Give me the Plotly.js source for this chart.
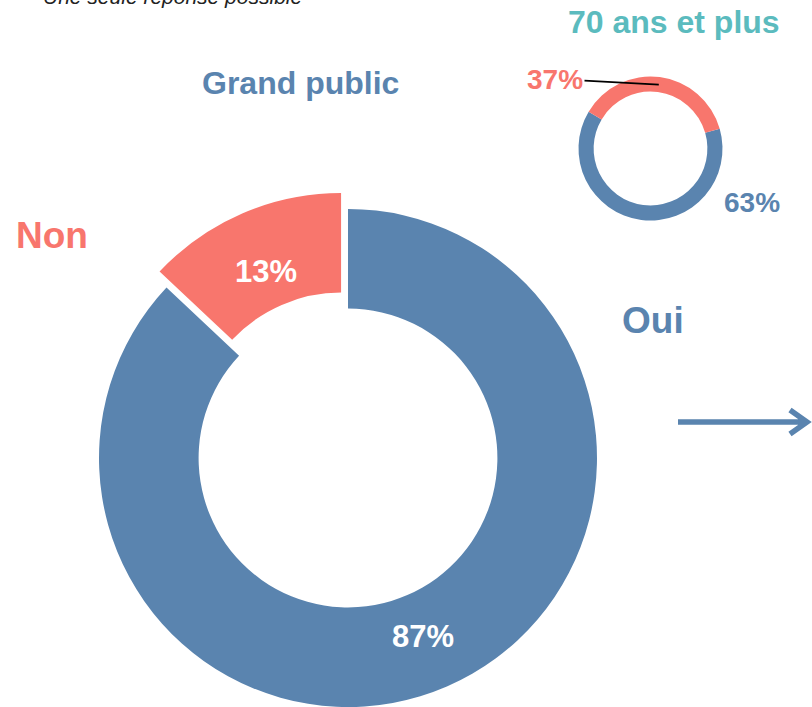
<!DOCTYPE html>
<html>
<head>
<meta charset="utf-8">
<script src="https://cdn.plot.ly/plotly-3.0.1.min.js"></script>
<style>
  html, body { margin: 0; padding: 0; overflow: hidden; background: #fff; }
  #chart { width: 812px; height: 740px; }
</style>
</head>
<body>
<div id="chart"></div>
<script>
// Réponses (en %)
const reponses = ["Oui", "Non"];
const grandPublic = [87, 13];
const plus70 = [63, 37];

const titreGrand = "Grand public";
const titre70 = "70 ans et plus";
const sousTitre = "Une seule réponse possible";

const BLEU = "#5A84AF";
const ROUGE = "#F8766D";
const TURQUOISE = "#5BBBBE";
const FONT = "Liberation Sans, Arial, sans-serif";

// la page est un peu plus haute que la fenêtre : le bas du grand anneau est coupé
const W = 812, H = 740;
const fx = x => x / W;
const fy = y => (H - y) / H;

// grand anneau
const bigPull = 0.07;
const bigC = [348, 458];
const bigR0 = 249;
const bigR = bigR0 * (1 + bigPull);

// petit anneau
const smallC = [650.5, 148.5];
const smallR = 72;
const smallHole = 0.79;
const smallRot = 74;

// angle (radians, sens horaire depuis midi) du milieu de la tranche i
function milieu(vals, i, rot) {
  const tot = vals.reduce((a, b) => a + b, 0);
  let avant = 0;
  for (let k = 0; k < i; k++) avant += vals[k];
  return (rot + 360 * (avant + vals[i] / 2) / tot) * Math.PI / 180;
}

function point(c, r, a) {
  return [c[0] + r * Math.sin(a), c[1] - r * Math.cos(a)];
}

// point du trait vers "37%" : milieu de la tranche "Non"
const ptNon = point(smallC, smallR * (1 + smallHole) / 2, milieu(plus70, 1, smallRot));

const traces = [
  {
    type: "pie",
    labels: reponses,
    values: grandPublic,
    sort: false,
    direction: "clockwise",
    rotation: 0,
    hole: 0.6,
    pull: [0, bigPull],
    marker: { colors: [BLEU, ROUGE], line: { width: 0 } },
    textinfo: "none",
    domain: {
      x: [fx(bigC[0] - bigR), fx(bigC[0] + bigR)],
      y: [fy(bigC[1] + bigR), fy(bigC[1] - bigR)]
    },
    hoverinfo: "none"
  },
  {
    type: "pie",
    labels: reponses,
    values: plus70,
    sort: false,
    direction: "clockwise",
    rotation: smallRot,
    hole: smallHole,
    marker: { colors: [BLEU, ROUGE], line: { width: 0 } },
    textinfo: "none",
    domain: {
      x: [fx(smallC[0] - smallR), fx(smallC[0] + smallR)],
      y: [fy(smallC[1] + smallR), fy(smallC[1] - smallR)]
    },
    hoverinfo: "none"
  }
];

function texte(t, x, y, size, color, extra) {
  return Object.assign({
    text: t, xref: "paper", yref: "paper", x: fx(x), y: fy(y),
    xanchor: "center", yanchor: "middle", showarrow: false,
    font: { family: FONT, size: size, color: color, weight: "bold" }
  }, extra || {});
}

// pourcentages dans le grand anneau
const pulls = [0, bigPull];
const etiquettesGrand = grandPublic.map((v, i) => {
  const a = milieu(grandPublic, i, 0);
  const p = point(bigC, 190 + bigR0 * pulls[i], a);
  return texte(v + "%", p[0], p[1] + 4, 31, "#fff");
});

const annotations = [
  texte(sousTitre, 41, -3, 21, "#222", {
    xanchor: "left",
    font: { family: FONT, size: 21, color: "#222", style: "italic" }
  }),
  texte(titreGrand, 300.5, 83, 32, BLEU),
  texte(titre70, 674, 22.5, 32, TURQUOISE),
  texte(reponses[1], 52, 236, 37, ROUGE),
  texte(reponses[0], 653, 320, 37, BLEU),
  texte(plus70[0] + "%", 752, 203, 28, BLEU),
  {
    text: plus70[1] + "%",
    xref: "paper", yref: "paper",
    x: fx(ptNon[0]), y: fy(ptNon[1]),
    ax: 555 - ptNon[0], ay: 79 - ptNon[1],
    showarrow: true, arrowhead: 0, arrowwidth: 1.6, arrowcolor: "#000",
    font: { family: FONT, size: 28, color: ROUGE, weight: "bold" }
  }
].concat(etiquettesGrand);

// flèche décorative à droite
const fleche = "M " + fx(678) + "," + fy(422) + " L " + fx(806) + "," + fy(422) +
  " M " + fx(790) + "," + fy(410) + " L " + fx(807) + "," + fy(422) + " L " + fx(790) + "," + fy(434);

const layout = {
  width: W,
  height: H,
  margin: { l: 0, r: 0, t: 0, b: 0 },
  paper_bgcolor: "#fff",
  showlegend: false,
  annotations: annotations,
  shapes: [
    {
      type: "path", xref: "paper", yref: "paper", path: fleche,
      line: { color: BLEU, width: 5.5 }
    }
  ]
};

Plotly.newPlot("chart", traces, layout, { displayModeBar: false, staticPlot: true });
</script>
</body>
</html>
